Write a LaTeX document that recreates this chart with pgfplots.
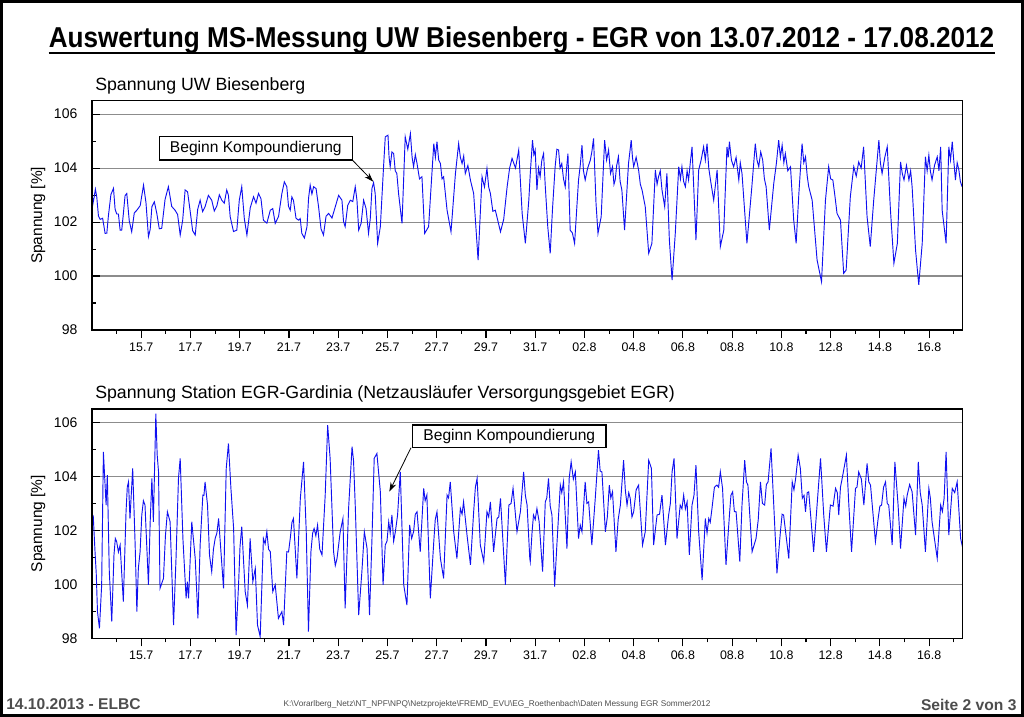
\documentclass[border=0pt]{standalone}
\usepackage{fontspec}
\setmainfont{Liberation Sans}
\usepackage{pgfplots}
\pgfplotsset{compat=1.18}
\usetikzlibrary{arrows.meta}
\definecolor{footgray}{HTML}{4D4D4D}
\definecolor{gridgray}{HTML}{8C8C8C}
\definecolor{lineblue}{HTML}{1010F0}

\pgfplotsset{
  common/.style={
    scale only axis, width=652.7pt, height=172pt, anchor=south west,
    xmin=0, xmax=35.35, ymin=98, ymax=106.5,
    axis line style={line width=0.9pt},
    major tick length=6pt, minor tick length=3pt,
    tick style={black, line width=0.8pt},
    tick pos=left,
    /pgf/number format/assume math mode=true,
  },
  yside/.style={
    common, tick align=inside, xtick=\empty,
    ytick={98,100,...,106}, minor ytick={99,101,...,105},
    ymajorgrids, major grid style={gridgray, line width=0.8pt},
    yticklabel style={font=\fontsize{10.5pt}{12pt}\selectfont, xshift=-7.5pt},
    ylabel={Spannung [\%]},
    ylabel style={font=\fontsize{11.6pt}{13pt}\selectfont, at={(axis description cs:-0.062,0.5)}, anchor=center},
  },
  xside/.style={
    common, tick align=outside, ytick=\empty,
    xtick={2,4,...,34},
    xticklabels={15.7,17.7,19.7,21.7,23.7,25.7,27.7,29.7,31.7,02.8,04.8,06.8,08.8,10.8,12.8,14.8,16.8},
    minor xtick={1,3,...,35},
    xticklabel style={font=\fontsize{9.3pt}{11pt}\selectfont},
  },
}

\begin{document}
\begin{tikzpicture}[x=0.75pt,y=0.75pt]
\path[use as bounding box] (0,0) rectangle (1024,717);

% ---------- Panel 1 ----------
\begin{axis}[yside, at={(69.05pt,290.25pt)}]
\addplot[lineblue, line width=0.7pt] coordinates {
(0.00,103.06)(0.04,102.70)(0.08,102.90)(0.135,103.22)(0.19,102.94)(0.26,102.22)(0.33,102.10)(0.43,102.14)(0.53,101.58)(0.60,101.59)(0.66,102.20)(0.765,103.02)(0.87,103.25)(0.935,102.48)(1.00,102.30)(1.07,102.30)(1.14,101.70)(1.205,101.70)(1.27,102.30)(1.34,102.98)(1.41,103.06)(1.51,102.05)(1.61,101.64)(1.715,102.34)(1.82,102.44)(1.955,102.61)(2.09,103.37)(2.19,102.72)(2.29,101.46)(2.36,101.72)(2.43,102.57)(2.53,102.75)(2.63,102.32)(2.73,101.75)(2.83,101.77)(2.965,102.84)(3.10,103.31)(3.235,102.58)(3.37,102.44)(3.475,102.28)(3.58,101.52)(3.68,102.06)(3.78,103.19)(3.88,103.12)(3.98,102.44)(4.085,101.68)(4.19,101.52)(4.29,102.47)(4.39,102.81)(4.49,102.39)(4.59,102.57)(4.725,102.99)(4.86,102.81)(4.965,102.41)(5.07,102.60)(5.17,103.01)(5.27,102.81)(5.37,102.70)(5.47,103.19)(5.54,102.99)(5.61,102.20)(5.745,101.65)(5.88,101.70)(5.98,102.81)(6.08,103.31)(6.185,102.12)(6.29,101.52)(6.425,102.53)(6.56,102.94)(6.66,102.70)(6.76,103.06)(6.86,102.87)(6.96,102.07)(7.10,101.96)(7.24,102.44)(7.34,102.50)(7.44,101.95)(7.575,102.21)(7.71,103.06)(7.81,103.49)(7.91,103.31)(7.98,102.58)(8.05,102.44)(8.115,102.93)(8.18,102.81)(8.285,102.14)(8.39,102.07)(8.455,102.13)(8.52,101.58)(8.625,101.41)(8.73,101.83)(8.795,102.90)(8.86,103.37)(8.93,103.04)(9.00,103.31)(9.10,103.24)(9.20,102.57)(9.30,101.75)(9.40,101.52)(9.505,102.22)(9.61,102.32)(9.745,102.15)(9.88,102.57)(10.015,102.99)(10.15,102.81)(10.215,102.02)(10.28,101.83)(10.385,102.62)(10.49,102.81)(10.59,102.76)(10.69,103.31)(10.76,102.81)(10.83,101.70)(10.93,101.96)(11.03,102.81)(11.13,102.50)(11.23,101.58)(11.30,102.12)(11.37,103.25)(11.435,103.46)(11.50,103.06)(11.60,101.21)(11.71,101.83)(11.84,104.05)(11.91,105.16)(12.02,105.22)(12.065,104.40)(12.11,104.05)(12.18,104.60)(12.25,104.54)(12.315,103.90)(12.38,103.80)(12.45,103.06)(12.59,101.95)(12.72,105.16)(12.825,104.70)(12.93,105.28)(13.00,104.40)(13.06,104.05)(13.13,104.50)(13.20,104.17)(13.30,103.60)(13.40,103.68)(13.51,101.58)(13.67,101.83)(13.88,104.91)(13.945,104.40)(14.01,104.98)(14.08,104.30)(14.15,104.17)(14.215,103.60)(14.28,103.68)(14.42,102.44)(14.58,101.64)(14.76,103.80)(14.89,104.91)(14.96,104.40)(15.03,104.17)(15.095,104.45)(15.16,103.80)(15.265,104.10)(15.37,103.55)(15.50,103.06)(15.68,100.59)(15.84,103.68)(15.94,103.30)(16.04,103.99)(16.11,103.30)(16.18,103.06)(16.28,102.40)(16.38,102.44)(16.59,101.64)(16.72,102.10)(16.86,103.31)(16.96,104.00)(17.06,104.36)(17.20,104.00)(17.33,104.67)(17.47,102.32)(17.60,101.21)(17.74,102.81)
(17.80,103.80)(17.89,105.04)(17.945,104.50)(18.00,104.67)(18.07,103.19)(18.135,104.00)(18.20,103.68)(18.27,104.30)(18.34,104.54)(18.41,103.31)(18.51,101.83)(18.61,100.84)(18.70,102.44)(18.81,104.05)(18.88,104.70)(18.95,104.67)(19.01,104.00)(19.08,104.17)(19.15,103.60)(19.22,103.31)(19.275,104.00)(19.33,104.54)(19.42,101.70)(19.51,101.60)(19.60,101.21)(19.76,103.56)(19.83,104.10)(19.90,104.85)(19.96,103.90)(20.03,103.56)(20.13,104.00)(20.24,104.30)(20.30,104.60)(20.37,105.10)(20.47,102.70)(20.55,101.58)(20.68,102.20)(20.82,105.04)(20.90,104.30)(20.98,104.67)(21.06,103.80)(21.14,104.05)(21.20,103.40)(21.25,103.56)(21.31,104.10)(21.38,104.42)(21.45,103.50)(21.52,103.19)(21.63,101.70)(21.79,104.17)(21.90,105.04)(21.95,104.40)(22.00,104.05)(22.10,104.40)(22.20,103.93)(22.27,103.40)(22.34,103.19)(22.47,102.57)(22.61,100.84)(22.74,101.21)(22.88,103.93)(22.95,103.40)(23.01,103.68)(23.08,103.90)(23.15,103.19)(23.26,102.57)(23.35,103.80)(23.45,101.33)(23.56,99.85)(23.69,101.58)(23.83,104.05)(23.90,103.60)(23.96,104.05)(24.03,103.50)(24.10,103.31)(24.17,103.90)(24.23,103.56)(24.30,104.20)(24.37,104.79)(24.53,101.33)(24.64,103.93)(24.74,104.30)(24.84,104.79)(24.91,104.30)(24.98,104.91)(25.05,104.00)(25.12,103.56)(25.25,102.81)(25.39,103.93)(25.52,101.09)(25.66,101.70)(25.79,104.79)(25.84,104.40)(25.89,104.98)(25.97,104.30)(26.06,104.05)(26.16,104.40)(26.27,103.56)(26.33,104.20)(26.40,103.80)(26.60,101.21)(26.80,103.31)(26.94,104.91)(27.01,104.30)(27.08,104.05)(27.16,104.60)(27.24,104.30)(27.31,103.60)(27.38,103.31)(27.51,101.70)(27.69,103.43)(27.80,104.20)(27.89,105.04)(27.96,104.40)(28.03,104.85)(28.10,104.20)(28.16,104.54)(28.26,103.90)(28.37,104.05)(28.50,102.07)(28.60,101.21)(28.71,103.06)(28.84,104.91)(28.91,104.20)(28.98,104.42)(29.05,103.70)(29.11,103.31)(29.25,102.81)(29.45,100.59)(29.63,99.79)(29.79,102.81)(29.92,104.05)(30.00,103.60)(30.09,103.56)(30.17,103.00)(30.26,102.32)(30.40,102.07)(30.53,100.10)(30.63,100.22)(30.80,102.94)(30.94,104.05)(31.04,103.70)(31.14,104.23)(31.24,104.00)(31.34,104.79)(31.48,102.20)(31.61,101.09)(31.75,102.81)(31.89,104.30)(31.96,105.04)(32.02,104.20)(32.09,103.80)(32.20,104.40)(32.30,104.79)(32.43,102.44)(32.57,100.47)(32.71,101.21)(32.84,104.23)(32.91,103.80)(32.98,103.56)(33.08,104.10)(33.18,103.56)(33.25,103.90)(33.31,103.31)(33.45,100.96)(33.58,99.67)(33.72,101.21)(33.85,104.42)(33.92,103.90)(33.99,104.48)(34.05,103.90)(34.12,103.56)(34.22,104.10)(34.33,104.42)(34.40,103.90)(34.47,104.79)(34.53,102.44)(34.69,101.21)(34.80,104.79)(34.87,104.30)(34.94,104.98)(35.00,104.30)(35.07,103.56)(35.14,104.20)(35.21,103.93)(35.27,103.50)(35.34,103.31)
};
\end{axis}
\begin{axis}[xside, at={(69.05pt,290.25pt)}]
\end{axis}

% ---------- Panel 2 ----------
\begin{axis}[yside, at={(69.05pt,59.0pt)}]
\addplot[lineblue, line width=0.7pt] coordinates {
(0.00,102.38)(0.05,102.50)(0.12,101.21)(0.17,100.40)(0.22,98.99)(0.30,98.37)(0.39,99.98)(0.46,104.91)(0.57,102.94)(0.62,104.05)(0.70,100.47)(0.80,98.62)(0.89,101.09)(0.945,101.70)(1.00,101.58)(1.07,101.20)(1.14,101.46)(1.27,99.36)(1.38,102.69)(1.43,103.60)(1.48,103.80)(1.54,102.44)(1.65,104.30)(1.75,101.46)(1.82,98.99)(1.88,100.59)(1.95,101.20)(2.02,102.57)(2.085,103.10)(2.15,102.94)(2.29,99.98)(2.36,102.30)(2.43,103.93)(2.49,102.32)(2.59,106.33)(2.645,104.80)(2.70,104.17)(2.76,99.85)(2.90,100.22)(2.98,101.80)(3.06,102.69)(3.17,102.32)(3.31,98.49)(3.41,100.96)(3.51,103.93)(3.58,104.67)(3.69,101.70)(3.82,99.48)(3.87,100.10)(3.92,99.48)(4.05,102.32)(4.19,100.96)(4.30,98.74)(4.39,101.46)(4.50,103.31)(4.545,103.30)(4.59,103.80)(4.69,102.94)(4.77,101.09)(4.86,100.47)(4.93,101.30)(5.00,101.70)(5.07,101.90)(5.14,102.44)(5.34,99.85)(5.45,104.30)(5.54,105.22)(5.64,103.56)(5.75,102.07)(5.85,98.12)(5.95,99.98)(6.01,101.40)(6.08,102.14)(6.22,99.73)(6.31,99.23)(6.42,101.70)(6.53,100.10)(6.63,100.59)(6.72,98.49)(6.83,98.06)(6.96,101.70)(7.03,101.50)(7.10,101.95)(7.17,101.30)(7.24,101.21)(7.34,99.73)(7.44,99.98)(7.57,98.74)(7.71,98.99)(7.78,98.49)(7.91,101.21)(7.98,101.20)(8.05,101.70)(8.12,102.30)(8.18,102.44)(8.32,100.22)(8.46,103.19)(8.59,104.54)(8.70,101.95)(8.79,98.25)(8.89,101.21)(8.96,101.90)(9.02,102.07)(9.09,101.80)(9.16,102.20)(9.25,101.30)(9.34,101.09)(9.47,103.31)(9.57,105.90)(9.67,104.67)(9.81,101.21)(9.88,100.70)(9.95,100.96)(10.08,101.95)(10.19,102.44)(10.28,99.11)(10.42,102.81)(10.56,105.10)(10.62,104.60)(10.69,102.94)(10.83,98.86)(10.96,100.47)(11.06,101.95)(11.17,101.33)(11.27,98.86)(11.37,101.70)(11.46,104.67)(11.57,104.85)(11.71,103.43)(11.82,99.98)(11.91,101.46)(11.98,101.60)(12.05,102.32)(12.11,101.90)(12.18,102.57)(12.25,101.60)(12.32,101.95)(12.41,102.57)(12.52,104.17)(12.66,99.98)(12.79,99.23)(12.90,102.20)(12.98,101.70)(13.06,101.95)(13.13,102.60)(13.20,102.69)(13.33,101.21)(13.47,103.56)(13.53,103.10)(13.60,103.31)(13.74,99.48)(13.88,101.58)(13.94,102.40)(14.01,102.69)(14.15,100.96)(14.28,100.22)(14.42,103.31)(14.48,103.20)(14.55,103.80)(14.69,101.95)(14.82,100.96)(14.96,102.81)(15.03,102.60)(15.09,103.06)(15.23,101.83)(15.37,100.72)(15.50,102.69)(15.57,103.60)(15.64,103.93)(15.77,101.46)(15.91,100.84)(16.04,102.69)(16.11,102.50)(16.18,103.06)(16.31,101.21)(16.45,102.44)(16.52,102.50)(16.59,103.19)(16.79,99.98)(16.93,102.94)(17.02,103.00)(17.10,103.56)(17.26,101.95)(17.40,102.70)(17.53,104.17)(17.60,103.30)(17.67,102.94)(17.78,100.96)
(17.80,100.84)(17.87,101.90)(17.93,102.57)(18.00,102.40)(18.07,102.81)(18.16,102.32)(18.30,100.47)(18.41,103.06)(18.47,103.20)(18.54,103.93)(18.61,102.90)(18.68,102.57)(18.79,99.92)(18.88,101.46)(19.02,103.68)(19.08,103.40)(19.15,103.80)(19.29,101.33)(19.38,103.93)(19.46,104.54)(19.55,103.90)(19.63,104.17)(19.76,101.70)(19.83,102.20)(19.90,101.95)(20.03,103.80)(20.10,103.00)(20.17,103.06)(20.30,101.46)(20.44,103.19)(20.57,104.97)(20.64,104.20)(20.71,104.17)(20.85,101.95)(20.93,102.50)(21.01,103.68)(21.07,103.20)(21.14,103.43)(21.28,101.21)(21.37,102.40)(21.46,102.94)(21.59,104.60)(21.66,103.50)(21.73,102.94)(21.80,103.40)(21.86,103.19)(21.93,102.50)(22.00,102.69)(22.10,103.50)(22.20,103.68)(22.36,101.46)(22.47,101.95)(22.61,104.60)(22.72,104.30)(22.81,101.46)(22.95,102.57)(23.05,102.60)(23.15,103.31)(23.29,101.46)(23.42,102.57)(23.49,103.00)(23.56,104.17)(23.64,104.67)(23.76,101.70)(23.89,102.94)(23.96,102.80)(24.03,103.31)(24.10,102.80)(24.17,103.06)(24.26,101.09)(24.37,102.94)(24.45,103.30)(24.53,104.42)(24.64,101.95)(24.78,100.16)(24.91,102.44)(24.98,101.90)(25.05,102.44)(25.11,102.30)(25.18,102.81)(25.28,103.60)(25.38,103.68)(25.45,103.60)(25.52,104.17)(25.61,103.56)(25.75,100.72)(25.89,102.57)(25.95,103.30)(26.02,103.43)(26.09,102.70)(26.16,102.69)(26.31,100.84)(26.40,102.94)(26.51,104.60)(26.58,103.80)(26.64,103.68)(26.81,101.21)(26.97,101.70)(27.06,102.40)(27.15,103.80)(27.23,103.00)(27.32,102.94)(27.39,103.70)(27.46,103.80)(27.58,105.04)(27.69,102.94)(27.82,100.41)(27.96,101.95)(28.03,102.60)(28.09,102.57)(28.30,100.96)(28.44,103.80)(28.51,103.50)(28.58,103.93)(28.68,104.79)(28.77,104.30)(28.85,103.19)(28.92,103.30)(28.98,102.69)(29.05,103.40)(29.11,103.43)(29.31,101.21)(29.45,102.94)(29.59,104.67)(29.72,102.57)(29.83,101.21)(29.99,102.94)(30.10,102.90)(30.20,103.56)(30.27,103.40)(30.33,102.57)(30.40,103.60)(30.47,103.93)(30.64,104.79)(30.74,102.94)(30.85,101.21)(31.01,103.56)(31.07,103.60)(31.14,104.17)(31.25,103.90)(31.35,102.94)(31.48,104.48)(31.55,103.80)(31.62,103.68)(31.82,101.58)(31.93,102.44)(32.00,102.90)(32.07,102.94)(32.15,103.60)(32.23,103.80)(32.30,103.00)(32.36,102.94)(32.50,101.46)(32.61,104.54)(32.74,102.94)(32.84,101.33)(32.98,103.19)(33.05,102.90)(33.11,103.31)(33.21,103.70)(33.31,103.43)(33.45,101.83)(33.56,104.54)(33.64,103.40)(33.72,102.94)(33.85,101.21)(33.99,103.56)(34.05,103.20)(34.12,102.32)(34.33,100.96)(34.47,102.94)(34.54,102.70)(34.61,103.19)(34.69,104.91)(34.80,101.83)(34.94,103.56)(35.04,103.40)(35.14,103.80)(35.28,101.70)(35.37,101.33)
};
\end{axis}
\begin{axis}[xside, at={(69.05pt,59.0pt)}]
\end{axis}

% ---------- annotations ----------
\draw[fill=white, line width=0.9pt] (159.3,580.3) rectangle (352.3,557);
\node[font=\fontsize{11.7pt}{13pt}\selectfont] at (255.8,568.65) {Beginn Kompoundierung};
\draw[line width=0.6pt, -{Stealth[length=7pt,width=4.5pt]}] (352.3,557) -- (373.3,535.3);

\draw[fill=white, line width=0.9pt] (412.7,292) rectangle (606,269.7);
\node[font=\fontsize{11.7pt}{13pt}\selectfont] at (509.35,280.85) {Beginn Kompoundierung};
\draw[line width=0.6pt, -{Stealth[length=7pt,width=4.5pt]}] (411,269.3) -- (389.3,225.3);

% ---------- titles ----------
\node[anchor=base, inner sep=0pt, font=\fontsize{19.6pt}{22pt}\selectfont\bfseries] (T) at (521.5,669)
  {\scalebox{1}[1.1]{Auswertung MS-Messung UW Biesenberg - EGR von 13.07.2012 - 17.08.2012}};
\draw[line width=1.6pt] ([yshift=-3.6pt]T.base west) -- ([yshift=-3.6pt]T.base east);

\node[anchor=base west, inner sep=0pt, font=\fontsize{13.3pt}{15pt}\selectfont] at (95,626) {Spannung UW Biesenberg};
\node[anchor=base west, inner sep=0pt, font=\fontsize{13.3pt}{15pt}\selectfont] at (95,318) {Spannung Station EGR-Gardinia (Netzausläufer Versorgungsgebiet EGR)};

% ---------- footer ----------
\node[anchor=base west, inner sep=0pt, text=footgray, font=\fontsize{11.7pt}{13pt}\selectfont\bfseries] at (6,7) {14.10.2013 - ELBC};
\node[anchor=base east, inner sep=0pt, text=footgray, font=\fontsize{11.7pt}{13pt}\selectfont\bfseries] at (1016.7,6.3) {Seite 2 von 3};
\node[anchor=base, inner sep=0pt, text=footgray, font=\fontsize{6.2pt}{7pt}\selectfont] at (497,10)
  {K:\textbackslash Vorarlberg\_Netz\textbackslash NT\_NPF\textbackslash NPQ\textbackslash Netzprojekte\textbackslash FREMD\_EVU\textbackslash EG\_Roethenbach\textbackslash Daten Messung EGR Sommer2012};

% ---------- page frame ----------
\draw[line width=2.4pt] (1.6,1.6) rectangle (1022.4,715.4);
\end{tikzpicture}
\end{document}
